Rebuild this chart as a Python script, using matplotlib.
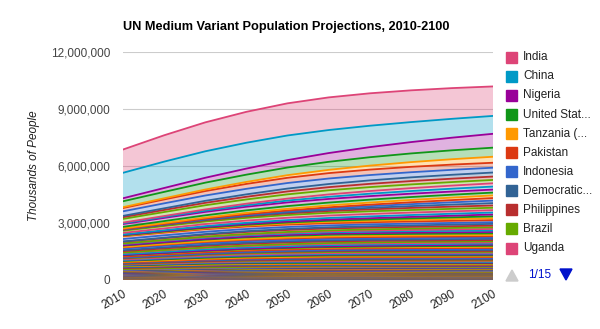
import numpy as np
import matplotlib.pyplot as plt
from matplotlib.patches import Rectangle, Polygon
from matplotlib.ticker import FuncFormatter

plt.rcParams['font.family'] = ['Liberation Sans', 'DejaVu Sans']

years = [2010, 2020, 2030, 2040, 2050, 2060, 2070, 2080, 2090, 2100]

# countries ordered as in the legend (largest 2100 population first = top of stack)
legend_countries = ["India", "China", "Nigeria", "United Stat...", "Tanzania (...",
                    "Pakistan", "Indonesia", "Democratic...", "Philippines",
                    "Brazil", "Uganda"]

# thousands of people, one row per country, 2010..2100 by decade (values in millions here, x1000 later)
legend_pop = [
    [1225, 1387, 1523, 1627, 1692, 1718, 1707, 1671, 1617, 1551],  # India
    [1341, 1388, 1393, 1361, 1296, 1212, 1126, 1053, 992, 941],    # China
    [158, 205, 258, 319, 390, 461, 531, 597, 665, 730],            # Nigeria
    [310, 337, 362, 383, 403, 423, 442, 457, 469, 478],            # United States
    [45, 60, 80, 104, 138, 172, 210, 248, 283, 316],               # Tanzania
    [174, 205, 234, 259, 275, 284, 287, 284, 275, 261],            # Pakistan
    [240, 262, 280, 291, 293, 289, 280, 270, 261, 254],            # Indonesia
    [66, 86, 106, 127, 149, 166, 182, 195, 205, 212],              # DR Congo
    [93, 110, 127, 141, 155, 165, 172, 177, 179, 178],             # Philippines
    [195, 210, 220, 223, 223, 217, 207, 195, 185, 177],            # Brazil
    [33, 47, 64, 83, 104, 124, 140, 153, 163, 171],                # Uganda
]

other_countries = [
    "Kenya", "Bangladesh", "Ethiopia", "Iraq", "Zambia", "Niger", "Malawi", "Sudan",
    "Mexico", "Egypt", "Afghanistan", "Mozambique", "Madagascar", "Yemen", "Russia",
    "Japan", "Angola", "Viet Nam", "Mali", "Cameroon", "France", "Burkina Faso",
    "Turkey", "Ghana", "United Kingdom", "Germany", "South Africa", "Iran",
    "Cote d'Ivoire", "Thailand", "Colombia", "Senegal", "Somalia", "Italy",
    "Argentina", "Syria", "Chad", "Malaysia", "Myanmar", "Canada", "Guatemala",
    "Nepal", "Spain", "Algeria", "Guinea", "Venezuela", "Saudi Arabia", "Rwanda",
    "Peru", "Australia", "Benin", "Morocco", "Uzbekistan", "Burundi", "Haiti",
    "Ukraine", "Poland", "Republic of Korea", "DPR Korea", "Sri Lanka", "Zimbabwe",
    "Ecuador", "Cambodia", "Tunisia", "Chile", "Kazakhstan", "Netherlands",
    "Sierra Leone", "Togo", "Romania", "Taiwan", "Papua New Guinea", "Bolivia",
    "Dominican Republic", "Cuba", "Belgium", "Greece", "Portugal", "Czech Republic",
    "Hungary", "Sweden", "Azerbaijan", "Belarus", "Austria", "Switzerland", "Israel",
    "Honduras", "Tajikistan", "Serbia", "Bulgaria", "Jordan", "Laos", "Libya",
    "Paraguay", "El Salvador", "Nicaragua", "Eritrea", "Denmark", "Kyrgyzstan",
    "Slovakia", "Finland", "Turkmenistan", "Norway", "Central African Republic",
    "Ireland", "Congo", "Liberia", "Lebanon", "Costa Rica", "New Zealand", "Georgia",
    "Croatia", "United Arab Emirates", "Singapore", "Hong Kong", "Puerto Rico",
    "Mauritania", "Panama", "Oman", "Bosnia and Herzegovina", "Uruguay", "Mongolia",
    "Armenia", "Albania", "Jamaica", "Kuwait", "Lithuania", "Moldova", "Namibia",
    "Botswana", "Lesotho", "Gambia", "Guinea-Bissau", "Gabon", "Slovenia", "Latvia",
    "Macedonia", "Qatar", "Estonia", "Trinidad and Tobago", "Mauritius", "Swaziland",
    "Timor-Leste", "Bahrain", "Cyprus", "Djibouti",
]

other_pop = [
    [41, 52, 65, 78, 97, 113, 127, 139, 150, 160],
    [149, 167, 181, 190, 194, 192, 186, 177, 167, 157],
    [83, 103, 119, 134, 145, 151, 154, 154, 152, 150],
    [32, 43, 56, 70, 84, 97, 110, 121, 131, 138],
    [13, 18, 26, 36, 49, 63, 80, 99, 117, 135],
    [16, 23, 32, 43, 55, 70, 87, 104, 119, 133],
    [15, 20, 27, 37, 50, 63, 78, 93, 109, 123],
    [44, 54, 65, 76, 86, 95, 104, 111, 116, 120],
    [113, 126, 136, 142, 144, 143, 140, 136, 131, 127],
    [81, 95, 107, 116, 124, 128, 129, 128, 126, 123],
    [31, 40, 51, 62, 76, 87, 95, 101, 104, 105],
    [23, 29, 36, 43, 51, 59, 68, 78, 88, 97],
    [21, 27, 35, 44, 54, 63, 72, 81, 90, 98],
    [24, 31, 39, 47, 54, 62, 70, 79, 89, 98],
    [143, 141, 137, 131, 126, 121, 117, 114, 112, 111],
    [127, 125, 120, 114, 108, 101, 96, 93, 91, 91],
    [19, 25, 33, 42, 51, 60, 69, 77, 85, 91],
    [88, 97, 103, 106, 104, 101, 97, 93, 90, 89],
    [15, 20, 26, 34, 42, 51, 60, 69, 78, 86],
    [20, 25, 30, 36, 42, 50, 58, 66, 74, 82],
    [63, 66, 69, 71, 73, 74, 75, 76, 76, 77],
    [16, 22, 29, 37, 46, 55, 62, 68, 72, 75],
    [73, 80, 86, 90, 92, 90, 87, 83, 79, 75],
    [24, 30, 36, 42, 49, 55, 61, 66, 70, 73],
    [62, 66, 69, 71, 73, 73, 72, 71, 70, 70],
    [82, 81, 79, 77, 75, 73, 71, 70, 70, 70],
    [50, 53, 55, 56, 57, 58, 59, 60, 62, 64],
    [74, 82, 88, 91, 89, 85, 79, 73, 67, 63],
    [20, 24, 30, 36, 42, 48, 53, 58, 61, 63],
    [69, 72, 73, 72, 69, 66, 64, 62, 61, 60],
    [46, 52, 57, 61, 63, 63, 62, 60, 59, 58],
    [12, 16, 21, 26, 31, 37, 43, 48, 53, 58],
    [9, 12, 16, 20, 24, 30, 37, 44, 51, 57],
    [61, 61, 61, 60, 59, 58, 57, 56, 56, 55],
    [40, 44, 47, 50, 51, 52, 53, 53, 54, 54],
    [20, 24, 29, 33, 37, 41, 45, 48, 50, 51],
    [11, 15, 19, 23, 27, 33, 39, 44, 48, 51],
    [28, 32, 36, 40, 43, 46, 48, 49, 50, 50],
    [48, 51, 55, 57, 58, 57, 55, 53, 51, 49],
    [34, 37, 40, 42, 44, 45, 45, 46, 46, 47],
    [14, 18, 22, 26, 31, 35, 39, 42, 44, 46],
    [30, 35, 40, 44, 46, 48, 48, 48, 47, 46],
    [46, 48, 49, 50, 51, 51, 50, 48, 47, 46],
    [35, 40, 44, 46, 47, 47, 47, 47, 46, 46],
    [10, 13, 17, 21, 24, 29, 33, 38, 41, 44],
    [29, 33, 36, 39, 42, 43, 44, 44, 44, 44],
    [27, 32, 37, 41, 44, 45, 45, 44, 43, 43],
    [11, 13, 17, 21, 26, 30, 34, 38, 40, 42],
    [29, 32, 36, 38, 40, 41, 41, 41, 41, 41],
    [22, 25, 28, 31, 34, 36, 37, 38, 39, 40],
    [9, 12, 15, 19, 22, 26, 30, 33, 36, 39],
    [32, 35, 38, 40, 40, 40, 39, 38, 38, 37],
    [28, 31, 34, 36, 37, 37, 37, 37, 37, 37],
    [8, 11, 14, 17, 20, 24, 28, 31, 34, 37],
    [10, 11, 13, 14, 15, 16, 16, 17, 17, 17],
    [46, 43, 40, 38, 36, 33, 31, 30, 29, 28],
    [38, 38, 37, 35, 32, 30, 28, 27, 26, 25],
    [48, 50, 50, 49, 47, 43, 39, 36, 34, 33],
    [24, 25, 26, 26, 26, 25, 25, 24, 24, 23],
    [21, 22, 23, 23, 22, 21, 20, 19, 18, 17],
    [13, 15, 17, 19, 20, 21, 22, 22, 23, 23],
    [14, 16, 18, 19, 20, 20, 20, 20, 19, 19],
    [14, 16, 18, 20, 21, 22, 22, 22, 22, 21],
    [10, 11, 12, 13, 13, 13, 13, 12, 12, 12],
    [17, 18, 19, 20, 20, 20, 20, 19, 19, 18],
    [16, 17, 19, 20, 20, 20, 20, 20, 20, 20],
    [17, 17, 17, 17, 17, 17, 17, 17, 17, 17],
    [6, 7, 8, 9, 10, 11, 12, 12, 13, 13],
    [6, 7, 9, 10, 11, 12, 13, 14, 14, 15],
    [21, 20, 19, 18, 18, 17, 16, 16, 15, 15],
    [23, 24, 24, 23, 22, 21, 20, 19, 18, 17],
    [7, 8, 10, 11, 13, 14, 15, 16, 17, 18],
    [10, 12, 13, 15, 16, 16, 17, 17, 16, 16],
    [10, 11, 12, 13, 13, 13, 13, 13, 12, 12],
    [11, 11, 11, 11, 10, 10, 9, 8, 8, 7],
    [11, 11, 12, 12, 12, 12, 12, 13, 13, 13],
    [11, 12, 12, 12, 12, 12, 11, 11, 11, 11],
    [11, 11, 10, 10, 10, 10, 9, 9, 9, 9],
    [10, 11, 11, 11, 10, 10, 10, 10, 10, 10],
    [10, 10, 9, 9, 9, 8, 8, 8, 8, 8],
    [9, 10, 10, 11, 11, 11, 11, 12, 12, 12],
    [9, 10, 11, 11, 11, 11, 10, 10, 9, 9],
    [9, 9, 9, 8, 8, 7, 7, 7, 6, 6],
    [8, 9, 9, 9, 9, 9, 9, 9, 9, 9],
    [8, 8, 9, 9, 9, 10, 10, 10, 10, 10],
    [7, 9, 10, 11, 12, 13, 13, 14, 14, 14],
    [8, 9, 11, 12, 12, 13, 13, 13, 12, 12],
    [7, 8, 10, 11, 12, 12, 12, 12, 12, 12],
    [10, 10, 9, 9, 8, 8, 7, 7, 6, 6],
    [7, 7, 7, 6, 6, 6, 5, 5, 5, 5],
    [6, 7, 8, 9, 10, 10, 10, 10, 10, 10],
    [6, 7, 8, 9, 9, 9, 9, 9, 8, 8],
    [6, 7, 8, 9, 9, 9, 9, 9, 8, 8],
    [6, 7, 8, 9, 10, 10, 10, 10, 9, 9],
    [6, 6, 7, 7, 7, 7, 7, 6, 6, 6],
    [6, 6, 7, 7, 8, 8, 8, 7, 7, 7],
    [5, 7, 8, 9, 10, 11, 12, 12, 13, 13],
    [6, 6, 6, 6, 6, 6, 6, 6, 6, 6],
    [5, 6, 7, 7, 7, 7, 7, 7, 7, 7],
    [5, 5, 5, 5, 5, 5, 5, 4, 4, 4],
    [5, 6, 6, 6, 6, 6, 6, 6, 5, 5],
    [5, 6, 6, 6, 6, 6, 6, 6, 6, 6],
    [5, 5, 6, 6, 6, 6, 6, 6, 6, 6],
    [4, 5, 6, 6, 7, 7, 8, 8, 9, 9],
    [4, 5, 5, 6, 6, 6, 6, 6, 6, 6],
    [4, 5, 6, 7, 7, 8, 9, 9, 10, 10],
    [4, 5, 6, 7, 8, 8, 9, 9, 10, 10],
    [4, 4, 5, 5, 5, 5, 5, 4, 4, 4],
    [5, 5, 5, 6, 6, 6, 6, 5, 5, 5],
    [4, 5, 5, 5, 5, 6, 6, 6, 6, 6],
    [4, 4, 4, 4, 4, 4, 3, 3, 3, 3],
    [4, 4, 4, 4, 4, 4, 3, 3, 3, 3],
    [8, 9, 10, 11, 12, 12, 12, 12, 12, 12],
    [5, 5, 6, 6, 6, 6, 6, 5, 5, 5],
    [7, 7, 8, 8, 8, 8, 8, 8, 8, 8],
    [4, 4, 4, 4, 4, 4, 4, 3, 3, 3],
    [3, 4, 5, 6, 6, 7, 7, 8, 8, 8],
    [3, 4, 4, 5, 5, 5, 5, 5, 5, 5],
    [3, 3, 4, 4, 4, 4, 4, 4, 4, 4],
    [4, 4, 4, 3, 3, 3, 3, 2, 2, 2],
    [3, 4, 4, 4, 4, 4, 4, 4, 4, 4],
    [3, 3, 3, 4, 4, 4, 4, 4, 4, 4],
    [3, 3, 3, 3, 3, 3, 3, 2, 2, 2],
    [3, 3, 3, 3, 3, 3, 3, 2, 2, 2],
    [3, 3, 3, 3, 3, 3, 2, 2, 2, 2],
    [3, 3, 4, 5, 5, 5, 5, 6, 6, 6],
    [3, 3, 3, 3, 3, 3, 2, 2, 2, 2],
    [4, 3, 3, 3, 3, 3, 2, 2, 2, 2],
    [2, 3, 3, 3, 3, 4, 4, 4, 4, 4],
    [2, 2, 2, 3, 3, 3, 3, 3, 3, 3],
    [2, 2, 2, 2, 3, 3, 3, 3, 3, 3],
    [2, 2, 3, 3, 4, 4, 4, 5, 5, 5],
    [2, 2, 2, 3, 3, 3, 3, 3, 4, 4],
    [2, 2, 2, 2, 3, 3, 3, 3, 3, 3],
    [2, 2, 2, 2, 2, 2, 2, 2, 2, 2],
    [2, 2, 2, 2, 2, 2, 2, 2, 2, 2],
    [2, 2, 2, 2, 2, 2, 2, 2, 2, 2],
    [2, 2, 2, 2, 2, 2, 2, 2, 2, 2],
    [1, 1, 1, 1, 1, 1, 1, 1, 1, 1],
    [1, 1, 1, 1, 1, 1, 1, 1, 1, 1],
    [1, 1, 1, 1, 1, 1, 1, 1, 1, 1],
    [1, 1, 1, 1, 2, 2, 2, 2, 2, 2],
    [1, 1, 2, 2, 2, 3, 3, 3, 3, 3],
    [1, 1, 2, 2, 2, 2, 2, 2, 2, 2],
    [1, 1, 1, 1, 1, 1, 1, 1, 1, 1],
    [1, 1, 1, 1, 1, 1, 1, 1, 1, 1],
]

palette = ['#3366cc', '#dc3912', '#ff9900', '#109618', '#990099',
           '#0099c6', '#dd4477', '#66aa00', '#b82e2e', '#316395']

y_ticks = [0, 3000000, 6000000, 9000000, 12000000]


def main():
    countries = legend_countries + other_countries
    # rows are in millions; the axis is in thousands of people
    pop = np.array(legend_pop + other_pop, dtype=float) * 1000

    colors = [palette[(6 - j) % 10] for j in range(len(countries))]

    # stack from the smallest (bottom) up to India (top)
    vals = pop[::-1]
    cols = colors[::-1]

    fig = plt.figure(figsize=(6, 3.29), dpi=100)
    ax = fig.add_axes([0.205, 0.149, 0.617, 0.693])

    ax.stackplot(years, vals, colors=cols, alpha=0.3, linewidth=0)
    tops = np.cumsum(vals, axis=0)
    for top, c in zip(tops, cols):
        ax.plot(years, top, color=c, lw=1.3)

    ax.set_xlim(2010, 2100)
    ax.set_ylim(0, 12000000)
    ax.set_yticks(y_ticks)
    ax.yaxis.set_major_formatter(FuncFormatter(lambda v, p: f"{int(v):,}"))
    ax.set_xticks(years)
    ax.set_xticklabels([str(y) for y in years], rotation=30, ha='right',
                       rotation_mode='anchor', fontsize=8.5, color='#222222')
    ax.tick_params(axis='both', length=0)
    ax.tick_params(axis='y', labelsize=8.5, labelcolor='#444444', pad=9)
    ax.tick_params(axis='x', pad=6)
    ax.yaxis.grid(True, color='#cccccc', lw=0.8)
    ax.set_axisbelow(True)
    for s in ax.spines.values():
        s.set_visible(False)

    ax.set_ylabel("Thousands of People", style='italic', fontsize=8.5,
                  color='#222222', labelpad=8)

    fig.text(123 / 600, 1 - 27 / 329, "UN Medium Variant Population Projections, 2010-2100",
             fontsize=9.2, fontweight='bold', color='#000000', va='center', ha='left')

    # legend, first page
    W, H = 600, 329
    for j, name in enumerate(legend_countries):
        yc = 57.3 + j * 19.07
        fig.patches.append(Rectangle((506 / W, 1 - (yc + 5.5) / H), 11 / W, 11 / H,
                                     transform=fig.transFigure, color=colors[j]))
        fig.text(523 / W, 1 - yc / H, name, fontsize=8.5, color='#222222',
                 va='center', ha='left')

    yp = 275
    fig.patches.append(Polygon([(506 / W, 1 - (yp + 6) / H), (518 / W, 1 - (yp + 6) / H),
                                (512 / W, 1 - (yp - 5) / H)],
                               transform=fig.transFigure, color='#cccccc'))
    fig.text(528 / W, 1 - yp / H, "1/15", fontsize=8.5, color='#0011cc',
             va='center', ha='left')
    fig.patches.append(Polygon([(560 / W, 1 - (yp - 6) / H), (572 / W, 1 - (yp - 6) / H),
                                (566 / W, 1 - (yp + 5) / H)],
                               transform=fig.transFigure, color='#0011cc'))

    fig.savefig("out.png", dpi=100)


if __name__ == "__main__":
    main()
